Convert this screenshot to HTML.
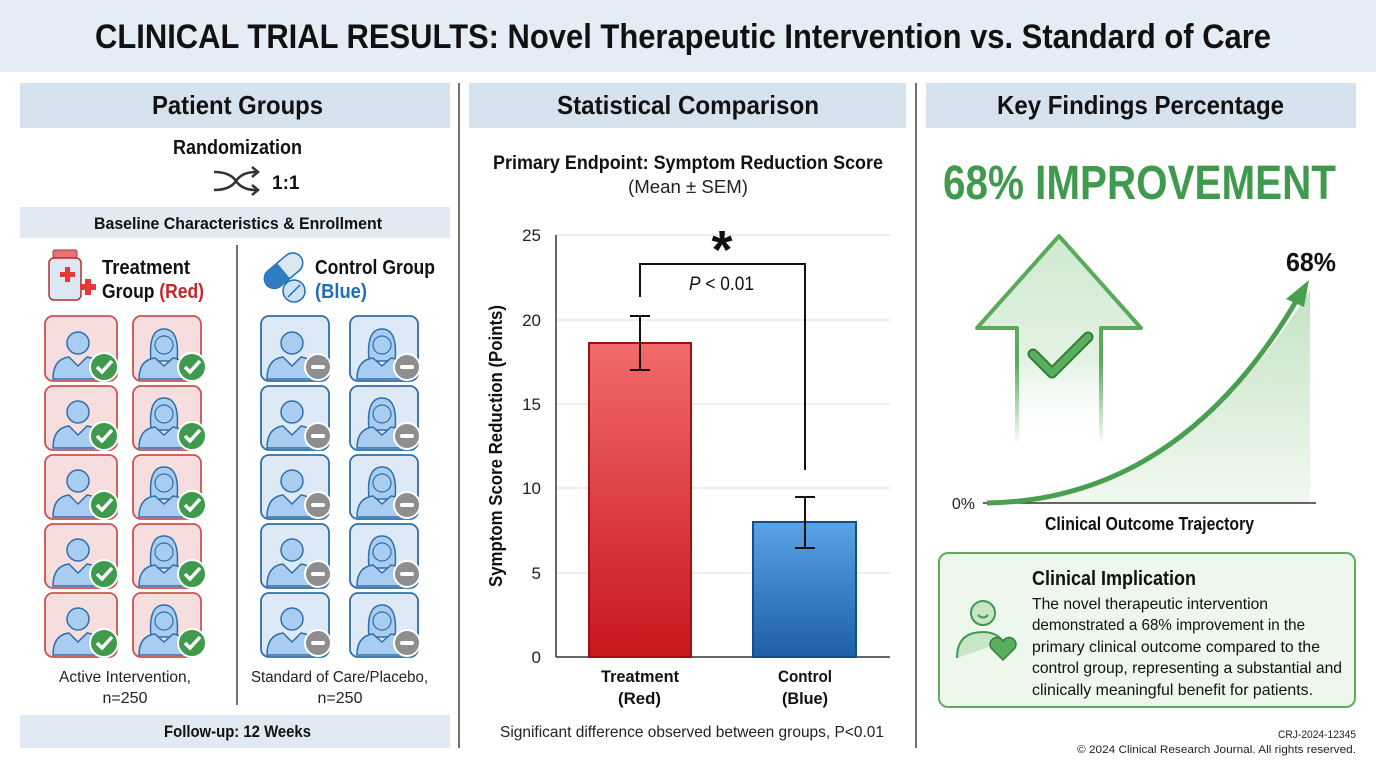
<!DOCTYPE html>
<html><head><meta charset="utf-8"><style>
body{margin:0;background:#fff}
svg text{font-family:"Liberation Sans Narrow","Liberation Sans",sans-serif}
</style></head><body>
<svg width="1376" height="768" viewBox="0 0 1376 768" xmlns="http://www.w3.org/2000/svg">
<defs>
<linearGradient id="rb" x1="0" y1="0" x2="0" y2="1"><stop offset="0" stop-color="#f26a6a"/><stop offset="1" stop-color="#c8161c"/></linearGradient>
<linearGradient id="bb" x1="0" y1="0" x2="0" y2="1"><stop offset="0" stop-color="#5aa2e6"/><stop offset="1" stop-color="#1d5fa6"/></linearGradient>
<linearGradient id="ga" x1="0" y1="0" x2="0" y2="1"><stop offset="0" stop-color="#cfe9cf"/><stop offset="0.6" stop-color="#e3f2e2"/><stop offset="1" stop-color="#fff" stop-opacity="0"/></linearGradient>
<linearGradient id="gs" x1="0" y1="0" x2="0" y2="1"><stop offset="0" stop-color="#5aaa5c"/><stop offset="0.6" stop-color="#5aaa5c"/><stop offset="1" stop-color="#5aaa5c" stop-opacity="0"/></linearGradient>
<linearGradient id="gc" x1="0" y1="0" x2="0" y2="1"><stop offset="0" stop-color="#b5dcb4"/><stop offset="1" stop-color="#eef7ed"/></linearGradient>
<g id="man"><circle cx="0" cy="-14" r="11" fill="#a8cdf0" stroke="#2f6ea8" stroke-width="1.5"/><path d="M-25 22 Q-25 2 -9 0 L0 9 L9 0 Q25 2 25 22 Z" fill="#a8cdf0" stroke="#2f6ea8" stroke-width="1.5"/></g>
<g id="woman"><path d="M-13 4 Q-16 -28 0 -28 Q16 -28 13 4 Z" fill="#a8cdf0" stroke="#2f6ea8" stroke-width="1.5"/><circle cx="0" cy="-12" r="9" fill="#a8cdf0" stroke="#2f6ea8" stroke-width="1.2"/><path d="M-25 22 Q-25 3 -9 1 L0 9 L9 1 Q25 3 25 22 Z" fill="#a8cdf0" stroke="#2f6ea8" stroke-width="1.5"/></g>
<g id="chk"><circle r="14" fill="#3f9a4e" stroke="#fff" stroke-width="2"/><path d="M-7 0 L-2 5 L8 -6" fill="none" stroke="#fff" stroke-width="3.5"/></g>
<g id="minus"><circle r="13" fill="#8e8e8e" stroke="#fff" stroke-width="2"/><rect x="-7" y="-2" width="14" height="4" rx="2" fill="#fff"/></g>
</defs>
<rect x="0" y="0" width="1376" height="72" fill="#e4ecf5"/>
<text x="95" y="48" font-size="34" font-weight="bold" fill="#111" textLength="1176" lengthAdjust="spacingAndGlyphs">CLINICAL TRIAL RESULTS: Novel Therapeutic Intervention vs. Standard of Care</text>
<line x1="459" y1="83" x2="459" y2="748" stroke="#444" stroke-width="1.5"/>
<line x1="916" y1="83" x2="916" y2="748" stroke="#444" stroke-width="1.5"/>
<!-- panel1 -->
<rect x="20" y="83" width="430" height="45" fill="#d6e2ee"/>
<text x="152" y="114" font-size="26" font-weight="bold" fill="#111" textLength="171" lengthAdjust="spacingAndGlyphs">Patient Groups</text>
<text x="173" y="154" font-size="20" font-weight="bold" fill="#111" textLength="129" lengthAdjust="spacingAndGlyphs">Randomization</text>
<path d="M214 172 Q230 172 236 181 Q242 190 256 190 M214 190 Q230 190 236 181 Q242 172 256 172" fill="none" stroke="#333" stroke-width="2.5"/>
<path d="M252 167 L258 172 L252 177 M252 185 L258 190 L252 195" fill="none" stroke="#333" stroke-width="2.5"/>
<text x="272" y="189" font-size="19" font-weight="bold" fill="#111">1:1</text>
<rect x="20" y="207" width="430" height="31" fill="#e1e9f2"/>
<text x="94" y="229" font-size="17" font-weight="bold" fill="#111" textLength="288" lengthAdjust="spacingAndGlyphs">Baseline Characteristics &amp; Enrollment</text>
<line x1="237" y1="245" x2="237" y2="705" stroke="#444" stroke-width="1.5"/>
<rect x="53" y="250" width="24" height="8" rx="2" fill="#e57373" stroke="#b03030"/>
<rect x="49" y="258" width="32" height="42" rx="5" fill="#dbe8f4" stroke="#b03030" stroke-width="1.5"/>
<path d="M60 272 h5 v-5 h5 v5 h5 v5 h-5 v5 h-5 v-5 h-5z" fill="#e53935"/>
<path d="M80 284 h5 v-5 h6 v5 h5 v6 h-5 v5 h-6 v-5 h-5z" fill="#e53935"/>
<text x="102" y="274" font-size="20" font-weight="bold" fill="#111" textLength="88" lengthAdjust="spacingAndGlyphs">Treatment</text>
<text x="102" y="298" font-size="20" font-weight="bold" fill="#111" textLength="102" lengthAdjust="spacingAndGlyphs">Group <tspan fill="#c0282a">(Red)</tspan></text>
<g transform="rotate(-40 282 272)"><rect x="262" y="262" width="44" height="20" rx="10" fill="#dbe8f4" stroke="#1d6fb8" stroke-width="1.5"/><path d="M272 262 a10 10 0 0 0 0 20 h12 v-20z" fill="#2f7cc4"/></g>
<circle cx="294" cy="291" r="11" fill="#cfe2f5" stroke="#1d6fb8" stroke-width="1.5"/><line x1="288" y1="297" x2="300" y2="285" stroke="#1d6fb8" stroke-width="1.5"/>
<text x="315" y="274" font-size="20" font-weight="bold" fill="#111" textLength="120" lengthAdjust="spacingAndGlyphs">Control Group</text>
<text x="315" y="298" font-size="20" font-weight="bold" fill="#1f6fb0" textLength="52" lengthAdjust="spacingAndGlyphs">(Blue)</text>
<g stroke-width="1.8">
<rect x="45" y="316" width="72" height="65" rx="8" fill="#f6dede" stroke="#d05050"/><rect x="133" y="316" width="68" height="65" rx="8" fill="#f6dede" stroke="#d05050"/>
<rect x="45" y="386" width="72" height="64" rx="8" fill="#f6dede" stroke="#d05050"/><rect x="133" y="386" width="68" height="64" rx="8" fill="#f6dede" stroke="#d05050"/>
<rect x="45" y="455" width="72" height="64" rx="8" fill="#f6dede" stroke="#d05050"/><rect x="133" y="455" width="68" height="64" rx="8" fill="#f6dede" stroke="#d05050"/>
<rect x="45" y="524" width="72" height="64" rx="8" fill="#f6dede" stroke="#d05050"/><rect x="133" y="524" width="68" height="64" rx="8" fill="#f6dede" stroke="#d05050"/>
<rect x="45" y="593" width="72" height="64" rx="8" fill="#f6dede" stroke="#d05050"/><rect x="133" y="593" width="68" height="64" rx="8" fill="#f6dede" stroke="#d05050"/>
<rect x="261" y="316" width="68" height="65" rx="8" fill="#dde9f5" stroke="#2f6ea8"/><rect x="350" y="316" width="68" height="65" rx="8" fill="#dde9f5" stroke="#2f6ea8"/>
<rect x="261" y="386" width="68" height="64" rx="8" fill="#dde9f5" stroke="#2f6ea8"/><rect x="350" y="386" width="68" height="64" rx="8" fill="#dde9f5" stroke="#2f6ea8"/>
<rect x="261" y="455" width="68" height="64" rx="8" fill="#dde9f5" stroke="#2f6ea8"/><rect x="350" y="455" width="68" height="64" rx="8" fill="#dde9f5" stroke="#2f6ea8"/>
<rect x="261" y="524" width="68" height="64" rx="8" fill="#dde9f5" stroke="#2f6ea8"/><rect x="350" y="524" width="68" height="64" rx="8" fill="#dde9f5" stroke="#2f6ea8"/>
<rect x="261" y="593" width="68" height="64" rx="8" fill="#dde9f5" stroke="#2f6ea8"/><rect x="350" y="593" width="68" height="64" rx="8" fill="#dde9f5" stroke="#2f6ea8"/>
</g>
<g>
<use href="#man" x="78" y="357"/><use href="#woman" x="164" y="357"/><use href="#man" x="78" y="426"/><use href="#woman" x="164" y="426"/><use href="#man" x="78" y="495"/><use href="#woman" x="164" y="495"/><use href="#man" x="78" y="564"/><use href="#woman" x="164" y="564"/><use href="#man" x="78" y="633"/><use href="#woman" x="164" y="633"/>
<use href="#man" x="292" y="357"/><use href="#woman" x="382" y="357"/><use href="#man" x="292" y="426"/><use href="#woman" x="382" y="426"/><use href="#man" x="292" y="495"/><use href="#woman" x="382" y="495"/><use href="#man" x="292" y="564"/><use href="#woman" x="382" y="564"/><use href="#man" x="292" y="633"/><use href="#woman" x="382" y="633"/>
<use href="#chk" x="104" y="367"/><use href="#chk" x="192" y="367"/><use href="#chk" x="104" y="436"/><use href="#chk" x="192" y="436"/><use href="#chk" x="104" y="505"/><use href="#chk" x="192" y="505"/><use href="#chk" x="104" y="574"/><use href="#chk" x="192" y="574"/><use href="#chk" x="104" y="643"/><use href="#chk" x="192" y="643"/>
<use href="#minus" x="318" y="367"/><use href="#minus" x="407" y="367"/><use href="#minus" x="318" y="436"/><use href="#minus" x="407" y="436"/><use href="#minus" x="318" y="505"/><use href="#minus" x="407" y="505"/><use href="#minus" x="318" y="574"/><use href="#minus" x="407" y="574"/><use href="#minus" x="318" y="643"/><use href="#minus" x="407" y="643"/>
</g>
<text x="59" y="682" font-size="16" fill="#222" textLength="132" lengthAdjust="spacingAndGlyphs">Active Intervention,</text>
<text x="125" y="703" font-size="16" text-anchor="middle" fill="#222">n=250</text>
<text x="251" y="682" font-size="16" fill="#222" textLength="177" lengthAdjust="spacingAndGlyphs">Standard of Care/Placebo,</text>
<text x="340" y="703" font-size="16" text-anchor="middle" fill="#222">n=250</text>
<rect x="20" y="715" width="430" height="33" fill="#e1e9f2"/>
<text x="164" y="737" font-size="17" font-weight="bold" fill="#111" textLength="147" lengthAdjust="spacingAndGlyphs">Follow-up: 12 Weeks</text>
<!-- panel2 -->
<rect x="469" y="83" width="437" height="45" fill="#d6e2ee"/>
<text x="557" y="114" font-size="26" font-weight="bold" fill="#111" textLength="262" lengthAdjust="spacingAndGlyphs">Statistical Comparison</text>
<text x="493" y="169" font-size="19" font-weight="bold" fill="#111" textLength="390" lengthAdjust="spacingAndGlyphs">Primary Endpoint: Symptom Reduction Score</text>
<text x="628" y="193" font-size="18" fill="#222" textLength="120" lengthAdjust="spacingAndGlyphs">(Mean ± SEM)</text>
<g stroke="#ddd" stroke-width="1"><line x1="556" y1="235" x2="890" y2="235"/><line x1="556" y1="320" x2="890" y2="320"/><line x1="556" y1="404" x2="890" y2="404"/><line x1="556" y1="488" x2="890" y2="488"/><line x1="556" y1="573" x2="890" y2="573"/></g>
<line x1="556" y1="235" x2="556" y2="657" stroke="#333" stroke-width="1.5"/>
<line x1="556" y1="657" x2="890" y2="657" stroke="#333" stroke-width="1.5"/>
<g font-size="17" text-anchor="end" fill="#222"><text x="541" y="663">0</text><text x="541" y="579">5</text><text x="541" y="494">10</text><text x="541" y="410">15</text><text x="541" y="326">20</text><text x="541" y="241">25</text></g>
<text transform="translate(502 587) rotate(-90)" font-size="18" font-weight="bold" fill="#111" textLength="282" lengthAdjust="spacingAndGlyphs">Symptom Score Reduction (Points)</text>
<rect x="589" y="343" width="102" height="314" fill="url(#rb)" stroke="#a01015" stroke-width="2"/>
<rect x="753" y="522" width="103" height="135" fill="url(#bb)" stroke="#154d8a" stroke-width="2"/>
<g stroke="#111" stroke-width="2" fill="none"><path d="M640 316 V370 M630 316 H650 M630 370 H650"/><path d="M805 497 V548 M795 497 H815 M795 548 H815"/><path d="M640 297 V264 H805 V470"/></g>
<text x="722" y="268" font-size="54" font-weight="bold" text-anchor="middle" fill="#111">*</text>
<text x="689" y="290" font-size="19" fill="#111" textLength="65" lengthAdjust="spacingAndGlyphs"><tspan font-style="italic">P</tspan> &lt; 0.01</text>
<g font-size="17" font-weight="bold" fill="#111"><text x="601" y="682" textLength="78" lengthAdjust="spacingAndGlyphs">Treatment</text><text x="618" y="704" textLength="43" lengthAdjust="spacingAndGlyphs">(Red)</text><text x="778" y="682" textLength="54" lengthAdjust="spacingAndGlyphs">Control</text><text x="782" y="704" textLength="46" lengthAdjust="spacingAndGlyphs">(Blue)</text></g>
<text x="500" y="737" font-size="16" fill="#222" textLength="384" lengthAdjust="spacingAndGlyphs">Significant difference observed between groups, P&lt;0.01</text>
<!-- panel3 -->
<rect x="926" y="83" width="430" height="45" fill="#d6e2ee"/>
<text x="997" y="114" font-size="26" font-weight="bold" fill="#111" textLength="287" lengthAdjust="spacingAndGlyphs">Key Findings Percentage</text>
<text x="943" y="199" font-size="48" font-weight="bold" fill="#3f9a4e" textLength="393" lengthAdjust="spacingAndGlyphs">68% IMPROVEMENT</text>
<path d="M1059 236 L1141 328 L1101 328 L1101 445 L1017 445 L1017 328 L977 328 Z" fill="url(#ga)"/>
<path d="M1017 445 L1017 328 L977 328 L1059 236 L1141 328 L1101 328 L1101 445" fill="none" stroke="url(#gs)" stroke-width="4" stroke-linejoin="round"/>
<path d="M1033 354 L1052 373 L1088 337" fill="none" stroke="#2e7d3a" stroke-width="11" stroke-linejoin="round" stroke-linecap="round"/>
<path d="M1033 354 L1052 373 L1088 337" fill="none" stroke="#5cae5f" stroke-width="7" stroke-linejoin="round" stroke-linecap="round"/>
<path d="M987 503 Q1180 500 1310 290 L1310 503 Z" fill="url(#gc)" opacity="0.8"/>
<line x1="983" y1="503" x2="1316" y2="503" stroke="#333" stroke-width="1.5"/>
<path d="M987 503 Q1180 500 1298 298" fill="none" stroke="#4a9f4e" stroke-width="5"/>
<path d="M1309 280 L1286 299 L1304 307 Z" fill="#4a9f4e"/>
<text x="975" y="509" font-size="16" text-anchor="end" fill="#222">0%</text>
<text x="1286" y="271" font-size="26" font-weight="bold" fill="#111" textLength="50" lengthAdjust="spacingAndGlyphs">68%</text>
<text x="1045" y="530" font-size="18" font-weight="bold" fill="#111" textLength="209" lengthAdjust="spacingAndGlyphs">Clinical Outcome Trajectory</text>
<rect x="939" y="553" width="416" height="154" rx="9" fill="#eef7ec" stroke="#5cae5f" stroke-width="2"/>
<circle cx="983" cy="613" r="12" fill="#c8e6c6" stroke="#3f9a4e" stroke-width="2"/>
<path d="M978 615 q5 5 10 0" fill="none" stroke="#3f9a4e" stroke-width="2"/>
<path d="M957 658 q0 -26 26 -26 q14 0 20 10" fill="#c8e6c6" stroke="#3f9a4e" stroke-width="2"/>
<path d="M1003 660 l-12 -12 a6 6 0 0 1 12 -7 a6 6 0 0 1 12 7 z" fill="#5cae5f" stroke="#2e7d3a" stroke-width="1.5"/>
<text x="1032" y="585" font-size="20" font-weight="bold" fill="#111" textLength="164" lengthAdjust="spacingAndGlyphs">Clinical Implication</text>
<g font-size="16" fill="#111"><text x="1032" y="609" textLength="236" lengthAdjust="spacingAndGlyphs">The novel therapeutic intervention</text><text x="1032" y="630" textLength="273" lengthAdjust="spacingAndGlyphs">demonstrated a 68% improvement in the</text><text x="1032" y="652" textLength="288" lengthAdjust="spacingAndGlyphs">primary clinical outcome compared to the</text><text x="1032" y="673" textLength="310" lengthAdjust="spacingAndGlyphs">control group, representing a substantial and</text><text x="1032" y="695" textLength="281" lengthAdjust="spacingAndGlyphs">clinically meaningful benefit for patients.</text></g>
<text x="1278" y="738" font-size="11" fill="#222" textLength="78" lengthAdjust="spacingAndGlyphs">CRJ-2024-12345</text>
<text x="1077" y="753" font-size="11" fill="#222" textLength="279" lengthAdjust="spacingAndGlyphs">© 2024 Clinical Research Journal. All rights reserved.</text>
</svg>
</body></html>
